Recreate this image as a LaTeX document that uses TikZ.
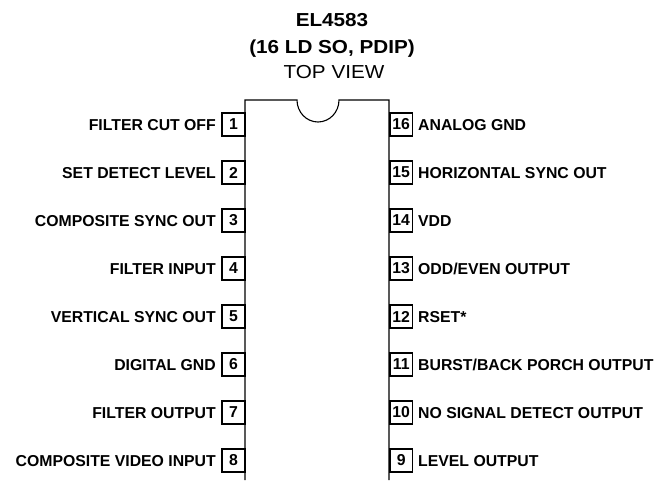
\documentclass[tikz,border=0pt]{standalone}
\usepackage{fontspec}
\setmainfont{Liberation Sans}
\newcommand{\pinfont}{\fontsize{15.8}{18}\selectfont\bfseries}
\newcommand{\ttlfont}{\fontsize{18.8}{22}\selectfont}
\begin{document}
\begin{tikzpicture}[x=1pt,y=-1pt,
  pinbox/.style={draw, line width=1.8pt, minimum size=22.5pt, inner sep=0pt, font=\pinfont},
  leftlabel/.style={anchor=base east, inner sep=0pt, font=\pinfont},
  rightlabel/.style={anchor=base west, inner sep=0pt, font=\pinfont},
  ttl/.style={anchor=base, inner sep=0pt, font=\ttlfont},
  body/.style={line width=1.1pt}]
\useasboundingbox (0,0) rectangle (667,480);
% title
\node[ttl] (t1) at (332,26.7) {\scalebox{1.1}[1]{\bfseries EL4583}};
\node[ttl] (t2) at (332,53.3) {\scalebox{1.1}[1]{\bfseries (16 LD SO, PDIP)}};
\node[ttl] (t3) at (334,78.3) {\scalebox{1.1}[1]{TOP VIEW}};
% chip body
\draw[body] (245,480) -- (245,100) -- (297,100)
  arc[start angle=180, end angle=0, x radius=21, y radius=22]
  -- (389,100) -- (389,480);
% left pins
\foreach \n/\t in {1/{FILTER CUT OFF}, 2/{SET DETECT LEVEL}, 3/{COMPOSITE SYNC OUT}, 4/{FILTER INPUT},
  5/{VERTICAL SYNC OUT}, 6/{DIGITAL GND}, 7/{FILTER OUTPUT}, 8/{COMPOSITE VIDEO INPUT}}{
  \pgfmathsetmacro{\yc}{124.5+48*(\n-1)}
  \node[pinbox] (p\n) at (233.5,\yc) {\n};
  \node[leftlabel] (l\n) at (216,\yc+5.65) {\t};
}
% right pins
\foreach \n/\t in {16/{ANALOG GND}, 15/{HORIZONTAL SYNC OUT}, 14/{VDD}, 13/{ODD/EVEN OUTPUT},
  12/{RSET*}, 11/{BURST/BACK PORCH OUTPUT}, 10/{NO SIGNAL DETECT OUTPUT}, 9/{LEVEL OUTPUT}}{
  \pgfmathsetmacro{\yc}{124.5+48*(16-\n)}
  \node[pinbox] (p\n) at (401.2,\yc) {\n};
  \node[rightlabel] (l\n) at (418,\yc+5.65) {\t};
}
\end{tikzpicture}
\end{document}
